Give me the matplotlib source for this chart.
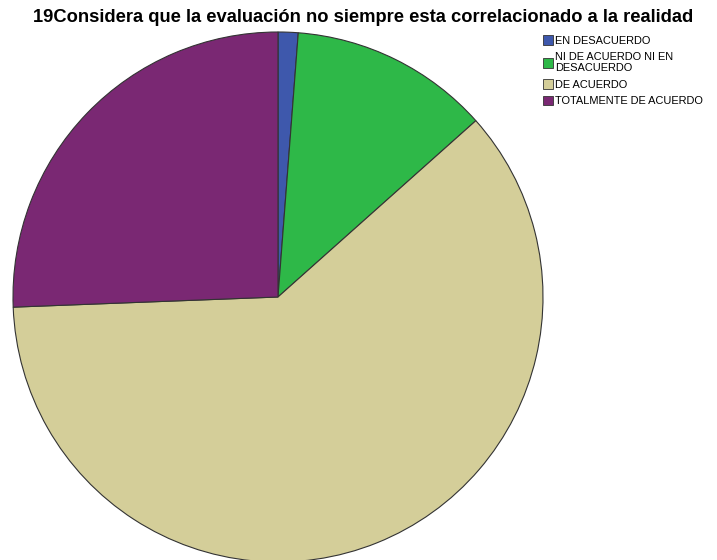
import matplotlib.pyplot as plt
from matplotlib.patches import Patch

# respuestas de la pregunta 19
categorias = ['EN DESACUERDO', 'NI DE ACUERDO NI EN\nDESACUERDO', 'DE ACUERDO', 'TOTALMENTE DE ACUERDO']
frecuencias = [1, 10, 50, 21]
colores = ['#3E58AC', '#2EB848', '#D4CE99', '#7A2873']

plt.rcParams['font.family'] = ['Liberation Sans', 'DejaVu Sans']

fig = plt.figure(figsize=(7.17, 5.6), dpi=100)
ax = fig.add_axes([13 / 717, -2 / 560, 530 / 717, 530 / 560])
ax.pie(frecuencias, colors=colores, startangle=90, counterclock=False,
       wedgeprops={'edgecolor': '#333333', 'linewidth': 0.8})
ax.set_xlim(-1, 1)
ax.set_ylim(-1, 1)
ax.set_aspect('equal')

fig.text(0.506, 0.968, '19Considera que la evaluación no siempre esta correlacionado a la realidad',
         ha='center', va='center', fontsize=13.2, fontweight='bold')

handles = [Patch(facecolor=c, edgecolor='#333333', linewidth=0.6) for c in colores]
fig.legend(handles, categorias, loc='upper left', bbox_to_anchor=(0.757, 0.937),
           frameon=False, fontsize=7.9, handlelength=0.95, handleheight=0.95,
           handletextpad=0.2, labelspacing=0.55, borderaxespad=0, borderpad=0)

fig.savefig('out.png', dpi=100)
